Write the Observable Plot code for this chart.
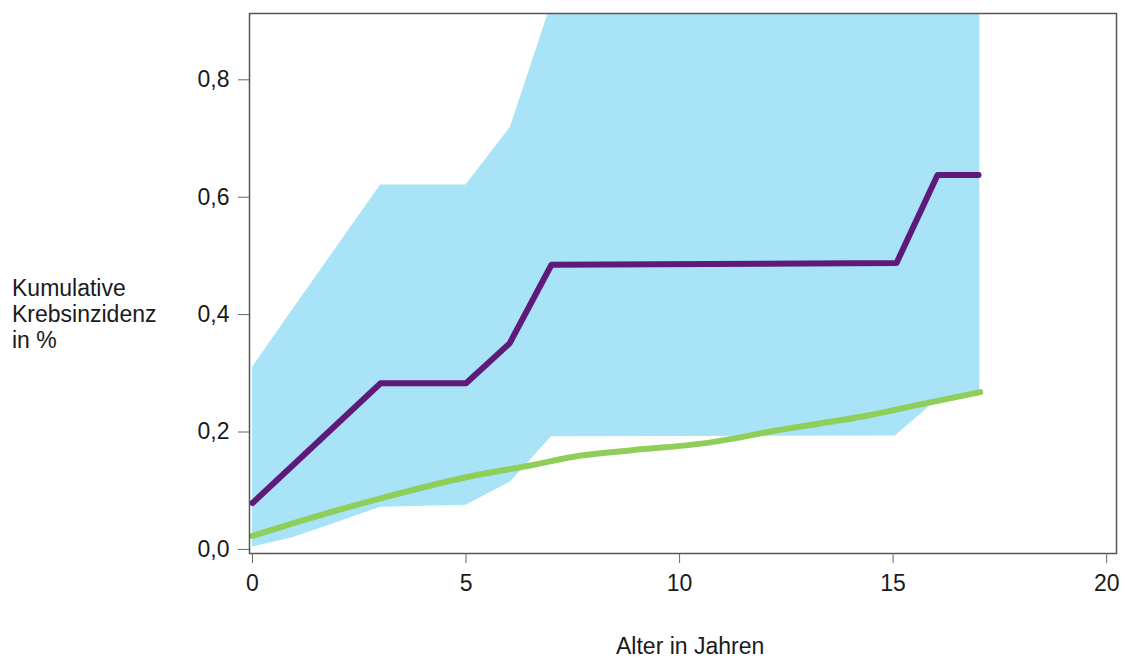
<!DOCTYPE html>
<html><head><meta charset="utf-8">
<script src="https://cdn.jsdelivr.net/npm/d3@7"></script>
<script src="https://cdn.jsdelivr.net/npm/@observablehq/plot@0.6"></script>
<style>
html,body{margin:0;padding:0;background:#fff;overflow:hidden;}
#wrap{position:relative;width:1127px;height:663px;font-family:"Liberation Sans",Arial,sans-serif;color:#1a1a1a;}
#wrap svg{position:absolute;left:0;top:0;}
.lab{position:absolute;font-size:23px;line-height:26px;white-space:nowrap;}
#ylab{left:12px;top:275px;}
#xlab{left:616px;top:634px;line-height:24px;}
</style></head><body>
<div id="wrap"></div>
<script>
// Labels
const yLabelLines = ["Kumulative", "Krebsinzidenz", "in %"];
const xLabel = "Alter in Jahren";
// Ticks
const xTicks = [0, 5, 10, 15, 20];
const yTicks = [0, 0.2, 0.4, 0.6, 0.8];
// Purple series (estimate)
const purpleX = [0, 3, 5, 6.02, 7, 15.08, 16.04, 17];
const purpleY = [0.079, 0.283, 0.283, 0.351, 0.485, 0.488, 0.638, 0.638];
// Green series (reference)
const greenX = [0, 1.2, 3, 5, 6.5, 7.7, 8.9, 10.6, 12.3, 14.4, 15.7, 17.04];
const greenY = [0.023, 0.05, 0.087, 0.123, 0.143, 0.16, 0.169, 0.181, 0.203, 0.228, 0.248, 0.268];
// Confidence band
const bandX    = [0, 0.9, 1.8, 3, 5, 6.04, 7, 15.05, 16, 17.03];
const bandLow  = [0.004, 0.019, 0.041, 0.072, 0.075, 0.115, 0.192, 0.193, 0.253, 0.27];
const bandHigh = [0.31, 0.404, 0.497, 0.621, 0.621, 0.719, 0.93, 0.93, 0.93, 0.93];

const purple = purpleX.map((x, i) => ({x, y: purpleY[i]}));
const green = greenX.map((x, i) => ({x, y: greenY[i]}));
const band = bandX.map((x, i) => ({x, lo: bandLow[i], hi: bandHigh[i]}));

const fmt = d => d.toFixed(1).replace(".", ",");

const chart = Plot.plot({
  width: 1127,
  height: 663,
  marginLeft: 249,
  marginRight: 11,
  marginTop: 13,
  marginBottom: 110,
  x: {domain: [-0.07, 20.23]},
  y: {domain: [-0.007, 0.913]},
  style: {fontFamily: "'Liberation Sans', Arial, sans-serif", fontSize: "23px", color: "#1a1a1a", background: "#fff"},
  marks: [
    Plot.areaY(band, {x: "x", y1: "lo", y2: "hi", fill: "#a8e3f7", clip: true}),
    Plot.line(green, {x: "x", y: "y", stroke: "#8fce58", strokeWidth: 6, curve: "monotone-x", strokeLinecap: "round", strokeLinejoin: "round"}),
    Plot.line(purple, {x: "x", y: "y", stroke: "#5e1a7b", strokeWidth: 6, strokeLinecap: "round", strokeLinejoin: "round"}),
    Plot.frame({stroke: "#555", strokeWidth: 1.5}),
    Plot.axisY(yTicks, {tickSize: 11, tickPadding: 9, tickFormat: fmt, label: null, stroke: "#666", fill: "#1a1a1a"}),
    Plot.axisX(xTicks, {tickSize: 10, tickPadding: 11, tickFormat: d => String(d), label: null, stroke: "#666", fill: "#1a1a1a"})
  ]
});

const wrap = document.getElementById("wrap");
wrap.appendChild(chart);
const yl = document.createElement("div");
yl.className = "lab"; yl.id = "ylab";
yLabelLines.forEach((t, i) => { if (i) yl.appendChild(document.createElement("br")); yl.appendChild(document.createTextNode(t)); });
wrap.appendChild(yl);
const xl = document.createElement("div");
xl.className = "lab"; xl.id = "xlab";
xl.textContent = xLabel;
wrap.appendChild(xl);
</script>
</body></html>
